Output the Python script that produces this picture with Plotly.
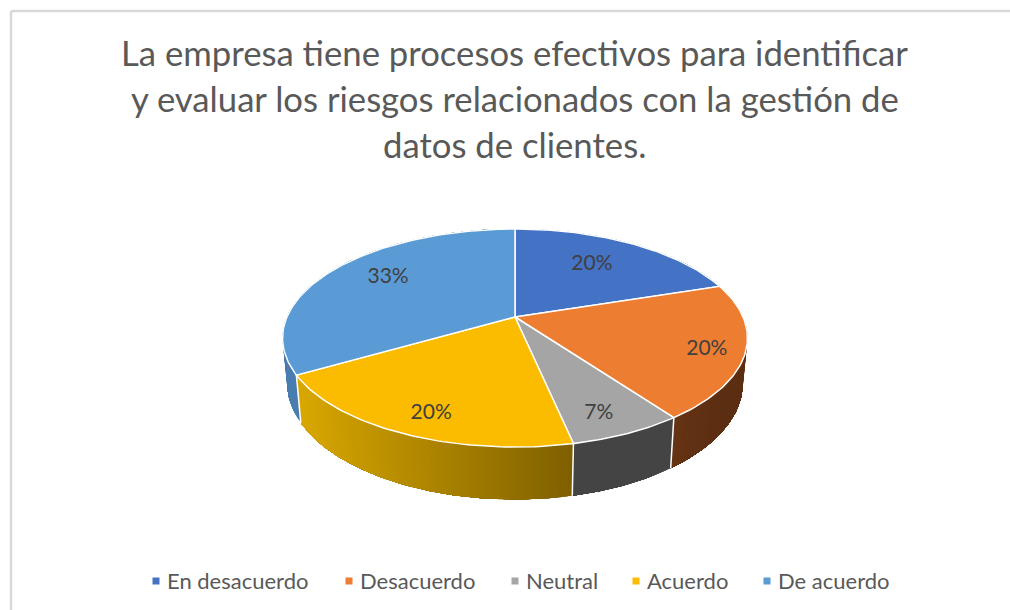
import math
import plotly.graph_objects as go

# datos de la encuesta
categories = ["En desacuerdo", "Desacuerdo", "Neutral", "Acuerdo", "De acuerdo"]
counts = [3, 3, 1, 3, 5]
title_lines = [
    "La empresa tiene procesos efectivos para identificar",
    "y evaluar los riesgos relacionados con la gestión de",
    "datos de clientes.",
]

_FONT = "Lato"
_TEXT = "#595959"
_LABEL = "#404040"
_FRAME = "#D9D9D9"
_TOP_COLOURS = ["#4472C4", "#ED7D31", "#A5A5A5", "#FBBC00", "#5B9BD5"]
# pared lateral: color izquierdo y derecho del degradado
_WALL_COLOURS = [
    ("#2F5597", "#2F5597"),
    ("#663414", "#5C2E12"),
    ("#444444", "#444444"),
    ("#D9A800", "#7F6000"),
    ("#4A80B8", "#4A7DB0"),
]

# geometria del disco en perspectiva (pixeles de la pagina)
_CX, _CY = 515, 317
_A, _B, _P = 228.1, 105.0, 0.1927
_BOT_CY, _BOT_SX, _BOT_SY = 361, 0.98, 1.065

# radio relativo y ajuste vertical de cada etiqueta
_LABEL_RADIUS = [0.63, 0.84, 0.78, 0.78, 0.685]
_LABEL_SHIFT = [-4, 4, 10, 10, -6]

_LEGEND_MARKER_X = [156, 349, 515, 636, 767]
_LEGEND_TEXT_GAP = 13
_LEGEND_Y = 580
_TITLE_Y = [52, 98, 144]


def _top(theta, f=1.0):
    u, v = f * math.sin(theta), f * math.cos(theta)
    w = 1 + _P * v
    return _CX + _A * u / w, _CY - _B * v / w


def _bottom(theta):
    x, y = _top(theta)
    return _CX + _BOT_SX * (x - _CX), _BOT_CY + _BOT_SY * (y - _CY)


def _mix(c1, c2, t):
    a = [int(c1[i:i + 2], 16) for i in (1, 3, 5)]
    b = [int(c2[i:i + 2], 16) for i in (1, 3, 5)]
    return "rgb(%d,%d,%d)" % tuple(round(p + (q - p) * t) for p, q in zip(a, b))


def _arc(a0, a1, step=math.radians(1)):
    n = max(2, int((a1 - a0) / step) + 1)
    return [a0 + (a1 - a0) * i / (n - 1) for i in range(n)]


total = sum(counts)
edges = [0.0]
for c in counts:
    edges.append(edges[-1] + 2 * math.pi * c / total)

fig = go.Figure()

# paredes laterales: cada tira llega hasta el final de la porcion y la
# siguiente la tapa, asi el degradado no deja rendijas
for i in range(len(counts)):
    thetas = _arc(edges[i], edges[i + 1], math.radians(1))
    x0, x1 = _top(edges[i + 1])[0], _top(edges[i])[0]
    left, right = _WALL_COLOURS[i]
    for a in thetas[:-1]:
        rest = _arc(a, edges[i + 1])
        pts = [_top(t) for t in rest] + [_bottom(t) for t in reversed(rest)]
        pts.append(pts[0])
        t = (_top(a)[0] - x0) / (x1 - x0) if x1 != x0 else 0
        fig.add_trace(go.Scatter(
            x=[p[0] for p in pts],
            y=[p[1] for p in pts],
            mode="lines",
            fill="toself",
            fillcolor=_mix(left, right, min(max(t, 0), 1)),
            line=dict(width=0),
            hoverinfo="skip",
            showlegend=False,
        ))

# aristas blancas entre paredes
for e in edges[:-1]:
    p, q = _top(e), _bottom(e)
    fig.add_trace(go.Scatter(
        x=[p[0], q[0]], y=[p[1], q[1]], mode="lines",
        line=dict(color="white", width=1.5),
        hoverinfo="skip", showlegend=False,
    ))

# cara superior
for i, name in enumerate(categories):
    pts = [(_CX, _CY)] + [_top(t) for t in _arc(edges[i], edges[i + 1])] + [(_CX, _CY)]
    fig.add_trace(go.Scatter(
        x=[p[0] for p in pts],
        y=[p[1] for p in pts],
        mode="lines",
        fill="toself",
        fillcolor=_TOP_COLOURS[i],
        line=dict(color="white", width=1.5),
        name=name,
        hoverinfo="name",
        showlegend=False,
    ))

# porcentajes
for i, c in enumerate(counts):
    x, y = _top((edges[i] + edges[i + 1]) / 2, _LABEL_RADIUS[i])
    fig.add_trace(go.Scatter(
        x=[x], y=[y + _LABEL_SHIFT[i]],
        mode="text",
        text=[f"{round(100 * c / total)}%"],
        textfont=dict(family=_FONT, size=21, color=_LABEL),
        hoverinfo="skip", showlegend=False,
    ))

# leyenda inferior
for i, name in enumerate(categories):
    fig.add_trace(go.Scatter(
        x=[_LEGEND_MARKER_X[i]], y=[581],
        mode="markers",
        marker=dict(symbol="square", size=7, color=_TOP_COLOURS[i]),
        hoverinfo="skip", showlegend=False,
    ))

annotations = [
    dict(x=_LEGEND_MARKER_X[i] + _LEGEND_TEXT_GAP, y=_LEGEND_Y, xref="x", yref="y",
         xanchor="left", xshift=-4, text=name, showarrow=False,
         font=dict(family=_FONT, size=22, color=_TEXT))
    for i, name in enumerate(categories)
]
annotations += [
    dict(x=514.5, y=y, xref="x", yref="y", text=line, showarrow=False,
         font=dict(family=_FONT, size=34.7, color=_TEXT))
    for line, y in zip(title_lines, _TITLE_Y)
]

fig.update_layout(
    width=1010,
    height=610,
    margin=dict(l=0, r=0, t=0, b=0),
    paper_bgcolor="white",
    plot_bgcolor="white",
    showlegend=False,
    annotations=annotations,
    xaxis=dict(range=[0, 1010], visible=False, fixedrange=True),
    yaxis=dict(range=[610, 0], visible=False, fixedrange=True),
    shapes=[
        dict(type="line", xref="x", yref="y", x0=11, x1=11, y0=11, y1=610,
             line=dict(color=_FRAME, width=2.5)),
        dict(type="line", xref="x", yref="y", x0=11, x1=1010, y0=11, y1=11,
             line=dict(color=_FRAME, width=2.5)),
    ],
)

fig.write_html(
    "out.html",
    config={"displayModeBar": False},
    post_script="document.body.style.margin='0';document.body.style.overflow='hidden';",
)
